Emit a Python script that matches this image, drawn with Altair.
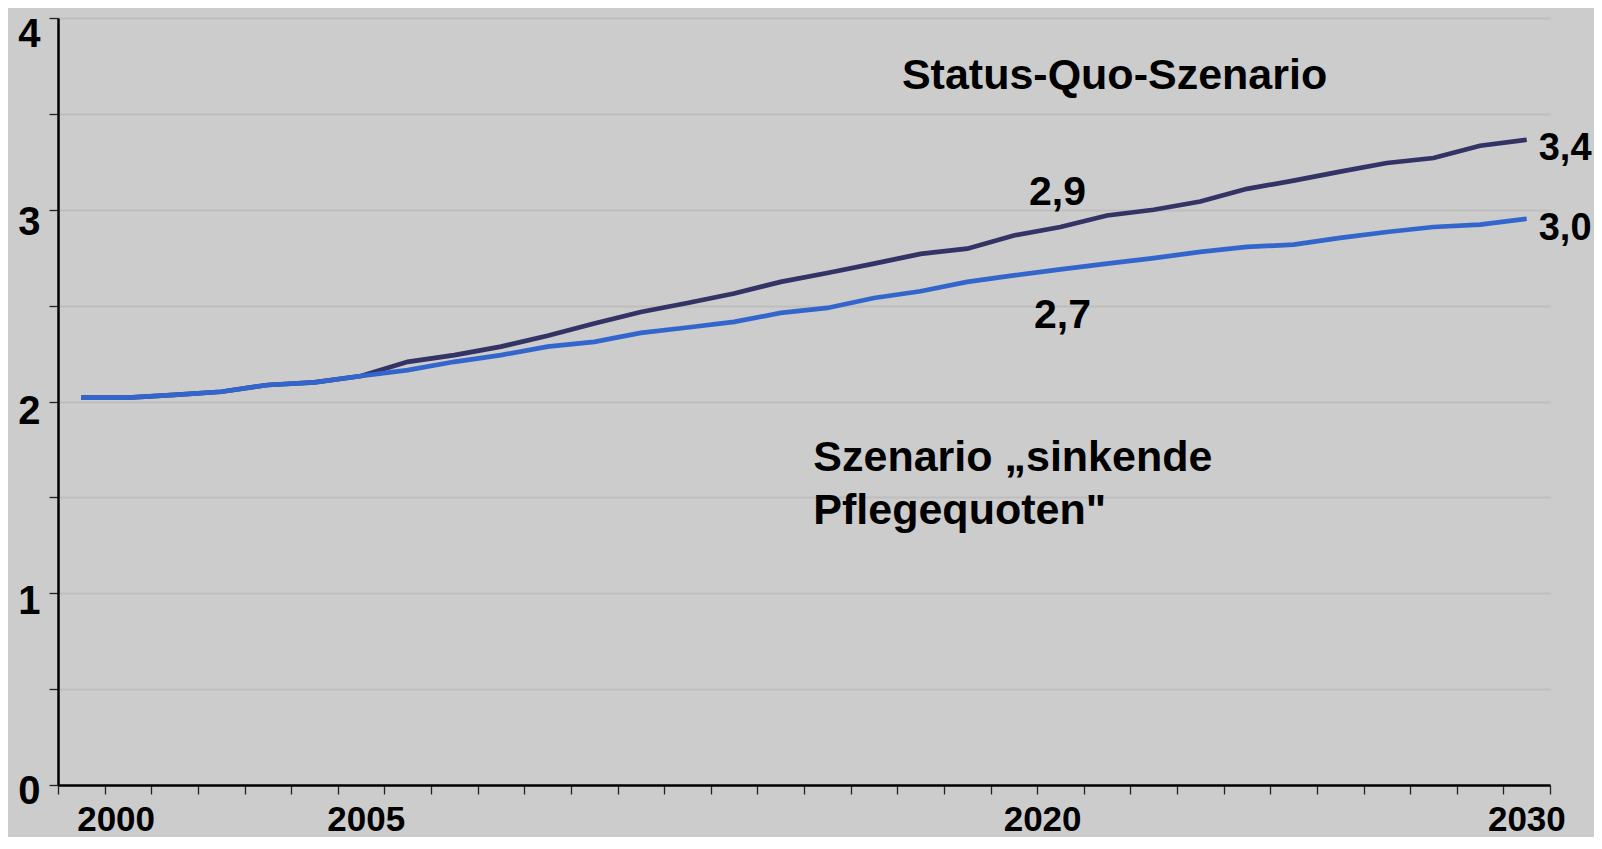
import altair as alt
import pandas as pd

# ---- data ----
years = list(range(1999, 2031))
status_quo = [2.02, 2.02, 2.035, 2.051, 2.086, 2.10, 2.133, 2.207, 2.242, 2.286,
              2.343, 2.407, 2.467, 2.514, 2.563, 2.624, 2.67, 2.719, 2.77, 2.797,
              2.866, 2.91, 2.97, 3.0, 3.043, 3.109, 3.152, 3.199, 3.244, 3.27,
              3.334, 3.365]
sinkende = [2.02, 2.02, 2.035, 2.051, 2.086, 2.10, 2.133, 2.164, 2.207, 2.242,
            2.286, 2.311, 2.358, 2.386, 2.415, 2.462, 2.488, 2.54, 2.575, 2.624,
            2.658, 2.689, 2.719, 2.748, 2.78, 2.806, 2.818, 2.853, 2.884, 2.91,
            2.922, 2.953]
series_names = ["Status-Quo-Szenario", "Szenario sinkende Pflegequoten"]
series_colors = ["#333366", "#3366CC"]

y_ticks = [0, 0.5, 1, 1.5, 2, 2.5, 3, 3.5, 4]
x_label_years = [2000, 2005, 2020, 2030]
x_boundaries = [1998.5 + i for i in range(33)]

ann_text = ["Status-Quo-Szenario", "Szenario \u201esinkende", "Pflegequoten\""]
ann_year = [2016.6, 2014.7, 2014.7]
ann_value = [3.70, 1.705, 1.43]

# ---- tables ----
df = pd.DataFrame({
    "year": years * 2,
    "value": status_quo + sinkende,
    "series": [series_names[0]] * len(years) + [series_names[1]] * len(years),
})
ann_df = pd.DataFrame({"text": ann_text, "year": ann_year, "value": ann_value})

FONT = "Liberation Sans"

xscale = alt.Scale(domain=[1998.5, 2030.5], nice=False, zero=False)
yscale = alt.Scale(domain=[0, 4], nice=False)

label_list = "[" + ",".join(str(v) for v in x_label_years) + "]"
xaxis = alt.Axis(
    values=x_boundaries,
    labelExpr=f"indexof({label_list}, datum.value + 0.5) >= 0 ? toString(datum.value + 0.5) : ''",
    labelOffset={"condition": [
        {"test": "datum.value == 1999.5", "value": 11},
        {"test": "datum.value == 2004.5", "value": 28},
        {"test": "datum.value == 2019.5", "value": 5},
    ], "value": 23},
    labelOverlap=False,
    labelFlush=False,
    labelFont=FONT, labelFontSize=35, labelFontWeight="bold", labelColor="black",
    labelPadding=8,
    tickSize=9, tickColor="#222222", tickWidth=1.3,
    domainColor="black", domainWidth=2.5,
    grid=False, title=None,
)
yaxis = alt.Axis(
    values=y_ticks,
    labelExpr="datum.value % 1 === 0 ? format(datum.value, 'd') : ''",
    labelFont=FONT, labelFontSize=40, labelFontWeight="bold", labelColor="black",
    labelPadding=9,
    labelOffset={"condition": [
        {"test": "datum.value == 4", "value": 16},
        {"test": "datum.value == 3", "value": 13},
        {"test": "datum.value == 2", "value": 10},
        {"test": "datum.value == 1", "value": 8},
    ], "value": 6},
    tickSize=9, tickColor="#222222", tickWidth=1.3,
    domainColor="black", domainWidth=2.5,
    grid=True, gridColor="#bebebe", gridWidth=2,
    title=None,
)

X = alt.X("year:Q", scale=xscale, axis=xaxis)
Y = alt.Y("value:Q", scale=yscale, axis=yaxis)

base = alt.Chart(df)

lines = base.mark_line(strokeWidth=4.7).encode(
    x=X, y=Y,
    color=alt.Color("series:N",
                    scale=alt.Scale(domain=series_names, range=series_colors),
                    legend=None),
)


def value_label(series, year, dx, dy, align, size):
    return base.transform_filter(
        (alt.datum.series == series) & (alt.datum.year == year)
    ).transform_calculate(
        lbl="replace(format(datum.value, '.1f'), '.', ',')"
    ).mark_text(
        font=FONT, fontSize=size, fontWeight="bold", color="black",
        align=align, baseline="middle", dx=dx, dy=dy,
    ).encode(x=X, y=Y, text="lbl:N")


lab1 = value_label(series_names[0], 2020, -3, -34, "center", 41)
lab2 = value_label(series_names[1], 2020, 2, 47, "center", 41)
lab3 = value_label(series_names[0], 2030, 12, 9, "left", 38)
lab4 = value_label(series_names[1], 2030, 12, 10, "left", 38)

ann = alt.Chart(ann_df).mark_text(
    font=FONT, fontSize=43, fontWeight="bold", color="black",
    align="left", baseline="middle",
).encode(x=X, y=Y, text="text:N")

chart = alt.layer(lines, lab1, lab2, lab3, lab4, ann).properties(
    width=1492, height=767,
    background="#cccccc",
    padding={"left": 50, "top": 10, "right": 44, "bottom": 52},
    autosize=alt.AutoSizeParams(type="none"),
).configure_view(stroke=None)

chart.save("out.html", embed_options={"renderer": "svg", "actions": False})
